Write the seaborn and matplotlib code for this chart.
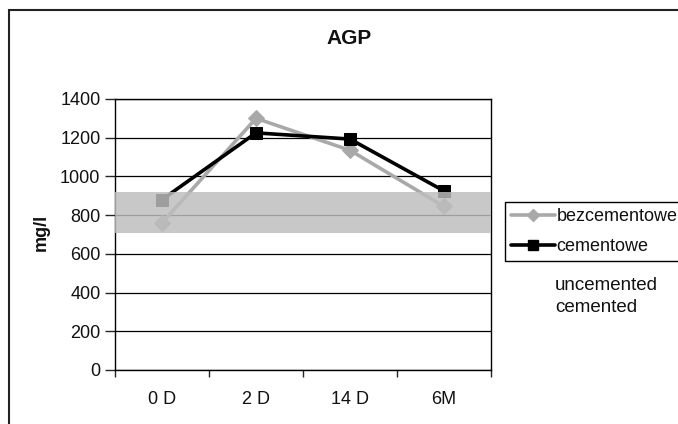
import matplotlib
matplotlib.use("Agg")
import matplotlib.pyplot as plt
import matplotlib.patches as mpatches
from matplotlib.ticker import FixedLocator, MultipleLocator
from matplotlib.lines import Line2D
import seaborn as sns
import pandas as pd

categories = ["0 D", "2 D", "14 D", "6M"]
bezcementowe = [760, 1300, 1135, 845]
cementowe = [880, 1225, 1193, 925]
band_low, band_high = 710, 920
series_names = ["bezcementowe", "cementowe"]
note_lines = ["uncemented", "cemented"]

sns.set_style("white")
plt.rcParams["font.family"] = ["Liberation Sans", "DejaVu Sans"]
plt.rcParams["text.color"] = "#111111"
plt.rcParams["xtick.labelcolor"] = "#111111"
plt.rcParams["ytick.labelcolor"] = "#111111"

fig = plt.figure(figsize=(6.78, 4.24), dpi=100)
ax = fig.add_axes([115/678, 1-370/424, (491-115)/678, (370-99)/424])

df = pd.DataFrame({
    "cat": categories * 2,
    "val": bezcementowe + cementowe,
    "series": [series_names[0]] * 4 + [series_names[1]] * 4,
})

grey = "#a9a9a9"
sns.lineplot(data=df[df.series == series_names[0]], x="cat", y="val", sort=False,
             color=grey, lw=2.6, marker="D", markersize=8, markeredgecolor=grey,
             ax=ax, zorder=3)
sns.lineplot(data=df[df.series == series_names[1]], x="cat", y="val", sort=False,
             color="black", lw=2.6, marker="s", markersize=9, markeredgecolor="black",
             ax=ax, zorder=4)

ax.axhspan(band_low, band_high, color=(190/255, 190/255, 190/255), alpha=0.84, lw=0, zorder=6)

ax.set_xlim(-0.5, 3.5)
ax.set_ylim(0, 1400)
ax.yaxis.set_major_locator(MultipleLocator(200))
ax.grid(axis="y", color="black", lw=0.9, zorder=1)
ax.set_axisbelow(True)
for s in ax.spines.values():
    s.set_color("black")
    s.set_linewidth(1.0)

ax.tick_params(axis="y", which="major", direction="out", length=7, width=1, labelsize=13, pad=3.5, left=True)
ax.tick_params(axis="x", which="major", length=0, labelsize=13, pad=15)
ax.xaxis.set_minor_locator(FixedLocator([-0.5, 0.5, 1.5, 2.5, 3.5]))
ax.tick_params(axis="x", which="minor", direction="out", length=5, width=1, bottom=True)
ax.set_xlabel("")
ax.set_ylabel("")
if ax.get_legend():
    ax.get_legend().remove()

fig.text(41/678, 1-232/424, "mg/l", rotation=90, fontsize=13, fontweight="bold",
         ha="center", va="center")
fig.text(349/678, 1-39/424, "AGP", fontsize=15, fontweight="bold", ha="center", va="center")

handles = [
    Line2D([], [], color=grey, lw=2.6, marker="D", markersize=6, markeredgecolor=grey),
    Line2D([], [], color="black", lw=2.6, marker="s", markersize=7, markeredgecolor="black"),
]
leg = fig.legend(handles, series_names, loc="upper left",
                 bbox_to_anchor=(505/678, 1-202/424), fontsize=13,
                 frameon=True, fancybox=False, edgecolor="black", framealpha=1,
                 handlelength=2.4, handletextpad=0.1, labelspacing=0.7,
                 borderpad=0.35, borderaxespad=0)
leg.get_frame().set_linewidth(1.0)

fig.text(555/678, 1-285/424, note_lines[0], fontsize=13.5, ha="left", va="center")
fig.text(555/678, 1-308/424, note_lines[1], fontsize=13.5, ha="left", va="center")

frame = mpatches.Rectangle((9/678, -0.1), 1.1, 1 - 9.5/424 + 0.1, transform=fig.transFigure,
                           fill=False, edgecolor="#222222", lw=1.5)
fig.patches.append(frame)

fig.savefig("out.png", dpi=100)
